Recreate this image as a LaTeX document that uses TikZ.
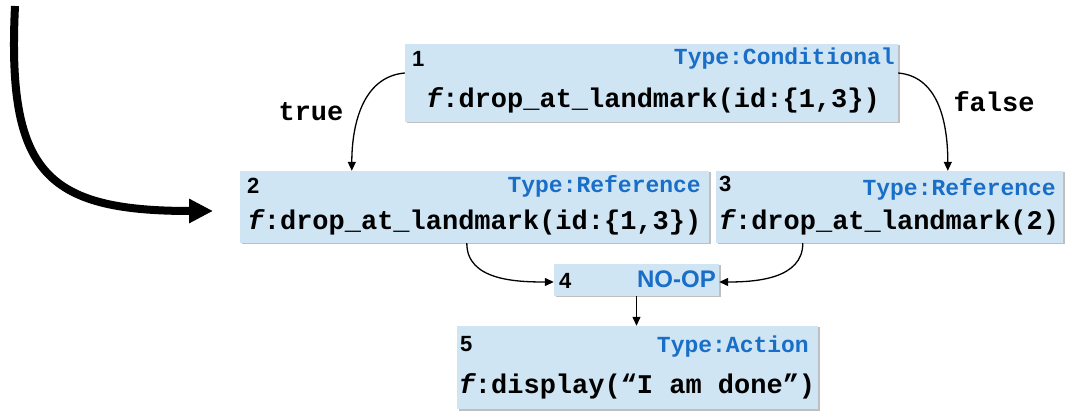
\documentclass[tikz,border=0pt]{standalone}
\usepackage{fontspec}
\setmainfont{Liberation Sans}
\newfontfamily\codefont{Liberation Mono}
\usetikzlibrary{arrows.meta,shadows}
\definecolor{boxblue}{RGB}{207,229,243}
\definecolor{typeblue}{RGB}{25,110,200}
\begin{document}
\begin{tikzpicture}[x=1pt,y=1pt,
  box/.style={fill=boxblue, draw=none, inner sep=0pt,
    drop shadow={shadow xshift=1.5pt, shadow yshift=-1.5pt, fill=black, opacity=0.25}},
  code/.style={font=\codefont\bfseries\fontsize{27}{30}\selectfont, inner sep=0pt},
  typ/.style={font=\codefont\bfseries\fontsize{23}{26}\selectfont, text=typeblue, inner sep=0pt, anchor=east},
  num/.style={font=\bfseries\fontsize{22}{24}\selectfont, inner sep=0pt, anchor=west},
  noop/.style={font=\bfseries\fontsize{24}{27}\selectfont, text=typeblue, inner sep=0pt, anchor=east},
  edge/.style={-{Triangle[length=9pt,width=8pt]}, line width=1.3pt},
  bigarrow/.style={-{Triangle[length=24pt,width=23pt]}, line width=8pt}]
\useasboundingbox (0,0) rectangle (1067,412);

% boxes
\node[box, minimum width=493pt, minimum height=78pt] (b1) at (651.5,329) {};
\node[box, minimum width=469pt, minimum height=72pt] (b2) at (474.5,205) {};
\node[box, minimum width=347pt, minimum height=72pt] (b3) at (889.5,205) {};
\node[box, minimum width=165pt, minimum height=32pt] (b4) at (636.5,132) {};
\node[box, minimum width=361pt, minimum height=83pt] (b5) at (637.5,44.5) {};

% box 1
\node[num] (n1) at (412,353) {1};
\node[typ] (t1) at (895,353) {Type:Conditional};
\node[code] (c1) at (653,312) {{\itshape f}:drop\_at\_landmark(id:\{1,3\})};
% box 2
\node[num] (n2) at (247,226) {2};
\node[typ] (t2) at (701,226) {Type:Reference};
\node[code] (c2) at (474.5,190) {{\itshape f}:drop\_at\_landmark(id:\{1,3\})};
% box 3
\node[num] (n3) at (719,228) {3};
\node[typ] (t3) at (1056,223) {Type:Reference};
\node[code] (c3) at (889,190) {{\itshape f}:drop\_at\_landmark(2)};
% box 4
\node[num] (n4) at (559,131) {4};
\node[noop] (t4) at (716,133) {NO-OP};
% box 5
\node[num] (n5) at (460,68) {5};
\node[typ] (t5) at (809,65) {Type:Action};
\node[code] (c5) at (637,26) {{\itshape f}:display(“I am done”)};

% labels
\node[code] (ltrue) at (311,300) {true};
\node[code] (lfalse) at (994,310) {false};

% connectors
\draw[edge] ([yshift=10pt]b1.west) to[out=185,in=90] ([xshift=112pt]b2.north west);
\draw[edge] ([yshift=10pt]b1.east) to[out=-5,in=90] ([xshift=232pt]b3.north west);
\draw[edge] ([xshift=227pt]b2.south west) to[out=-90,in=180] ([yshift=-2pt]b4.west);
\draw[edge] ([xshift=87pt]b3.south west) to[out=-90,in=0] ([yshift=-2pt]b4.east);
\draw[edge] (b4.south) -- (b4.south |- b5.north);

% big arrow
\coordinate (bs) at (15,406);
\coordinate (be) at (213,201);
\draw[bigarrow] (bs) .. controls (7,240) and (45,201) .. (be);
\end{tikzpicture}
\end{document}
